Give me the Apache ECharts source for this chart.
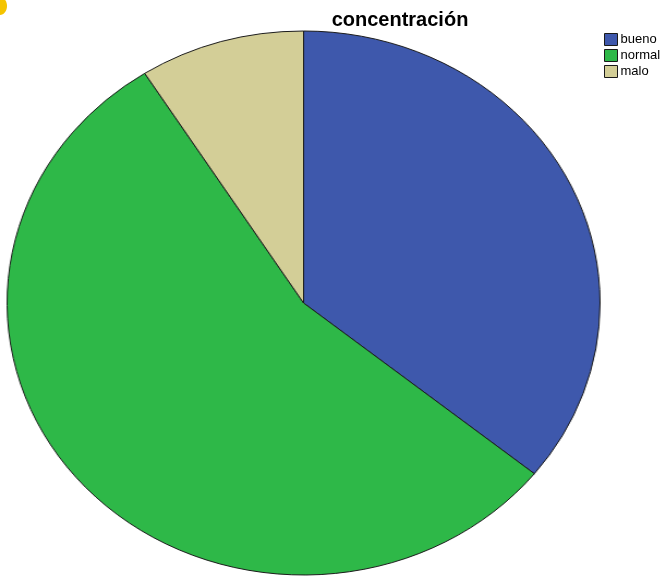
<!DOCTYPE html>
<html><head><meta charset="utf-8">
<script src="https://cdn.jsdelivr.net/npm/echarts@6/dist/echarts.min.js"></script>
<style>
html,body{margin:0;padding:0;background:#fff;}
#wrap{position:relative;width:663px;height:579px;overflow:hidden;}
#pie{position:absolute;left:0;top:0;width:600px;height:579px;transform-origin:0 0;transform:scaleX(1.09);}
#over{position:absolute;left:0;top:0;width:663px;height:579px;}
</style></head>
<body><div id="wrap"><div id="pie"></div><div id="over"></div></div>
<script>
const categories = ['bueno', 'normal', 'malo'];
const values = [35.8, 55.2, 9.0];
const colors = ['#3e58ac', '#2eb848', '#d3ce97'];
const titleText = 'concentración';

const data = categories.map((c, i) => ({ name: c, value: values[i], itemStyle: { color: colors[i] } }));

const pie = echarts.init(document.getElementById('pie'), null, { renderer: 'canvas' });
pie.setOption({
  animation: false,
  series: [{
    type: 'pie',
    center: [278.5, 303],
    radius: [0, 272],
    startAngle: 90,
    clockwise: true,
    label: { show: false },
    labelLine: { show: false },
    itemStyle: { borderColor: '#1a1a1a', borderWidth: 1 },
    emphasis: { disabled: true },
    data: data
  }]
});

const over = echarts.init(document.getElementById('over'), null, { renderer: 'canvas' });
over.setOption({
  animation: false,
  backgroundColor: 'transparent',
  title: {
    text: titleText,
    left: 395, top: 5,
    textAlign: 'center',
    textStyle: { fontFamily: 'Liberation Sans', fontWeight: 'bold', fontSize: 20, color: '#000' }
  },
  graphic: [{
    type: 'ellipse', shape: { cx: 0, cy: 6, rx: 7, ry: 9 }, style: { fill: '#f5c400' }, silent: true
  }],
  legend: {
    orient: 'vertical',
    left: 604, top: 33,
    padding: 0,
    itemWidth: 13, itemHeight: 12, itemGap: 3,
    icon: 'rect',
    data: categories,
    itemStyle: { borderColor: '#1a1a1a', borderWidth: 1 },
    textStyle: { fontFamily: 'Liberation Sans', fontSize: 13, color: '#000', padding: [0,0,0,-2], overflow: 'none' },
    selectedMode: false
  },
  series: [{
    type: 'pie',
    radius: [0, 0],
    center: [-100, -100],
    label: { show: false },
    labelLine: { show: false },
    silent: true,
    data: data
  }]
});
</script></body></html>
